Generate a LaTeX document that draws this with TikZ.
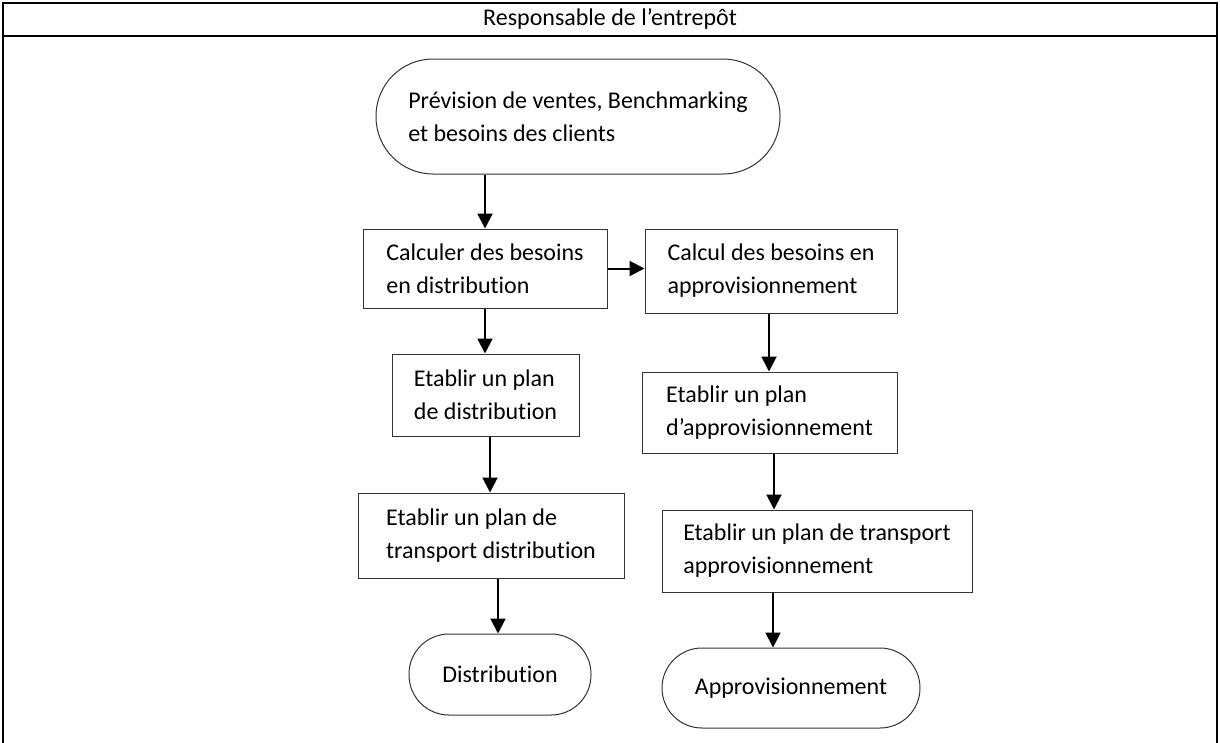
\documentclass[tikz,border=0pt]{standalone}
\usepackage{fontspec}
\setmainfont{Carlito}[Ligatures=NoCommon]
\usetikzlibrary{arrows.meta}
\begin{document}
\begin{tikzpicture}[x=1pt,y=-1pt,
  every node/.style={font=\fontsize{24}{33}\selectfont},
  proc/.style={draw=black!80,line width=1pt,rectangle,align=left,inner sep=0pt},
  term/.style={draw=black!80,line width=1pt,rectangle,align=left,inner sep=0pt},
  arr/.style={line width=2pt,-{Triangle[length=15pt,width=15pt]}},
  frame/.style={line width=2.5pt}]
\useasboundingbox (0,0) rectangle (1220,742);
% table frame
\draw[frame] (3,750) -- (3,3) -- (1217,3) -- (1217,750);
\draw[frame] (3,36) -- (1217,36);
\node (title) at (610,19) {Responsable de l’entrepôt};
% nodes
\node[term,minimum width=404pt,minimum height=115pt,rounded corners=57pt] (start) at (578,116.5)
  {Prévision de ventes, Benchmarking\\et besoins des clients};
\node[proc,minimum width=244pt,minimum height=79pt] (A) at (485,268.5)
  {Calculer des besoins\\en distribution};
\node[proc,minimum width=252pt,minimum height=84pt] (B) at (771,271)
  {Calcul des besoins en\\approvisionnement};
\node[proc,minimum width=187pt,minimum height=82pt] (C) at (485.5,395)
  {Etablir un plan\\de distribution};
\node[proc,minimum width=255pt,minimum height=81pt] (D) at (769.5,412.5)
  {Etablir un plan\\d’approvisionnement};
\node[proc,minimum width=266pt,minimum height=85pt] (E) at (491,535.5)
  {Etablir un plan de\\transport distribution};
\node[proc,minimum width=310pt,minimum height=82pt] (F) at (817,551)
  {Etablir un plan de transport\\approvisionnement};
\node[term,minimum width=182pt,minimum height=81pt,rounded corners=40pt] (G) at (500,674.5)
  {Distribution};
\node[term,minimum width=258pt,minimum height=80pt,rounded corners=40pt] (H) at (791,688)
  {Approvisionnement};
% arrow x positions
\coordinate (x1) at (485,0);
\coordinate (x3) at (485,0);
\coordinate (x4) at (769,0);
\coordinate (x5) at (490,0);
\coordinate (x6) at (774,0);
\coordinate (x7) at (498,0);
\coordinate (x8) at (773,0);
% connectors
\draw[arr] (start.south -| x1) -- (A.north -| x1);
\draw[arr] (A.east) -- (A.east -| B.west);
\draw[arr] (A.south -| x3) -- (C.north -| x3);
\draw[arr] (B.south -| x4) -- (D.north -| x4);
\draw[arr] (C.south -| x5) -- (E.north -| x5);
\draw[arr] (D.south -| x6) -- (F.north -| x6);
\draw[arr] (E.south -| x7) -- (G.north -| x7);
\draw[arr] (F.south -| x8) -- (H.north -| x8);
\end{tikzpicture}
\end{document}
